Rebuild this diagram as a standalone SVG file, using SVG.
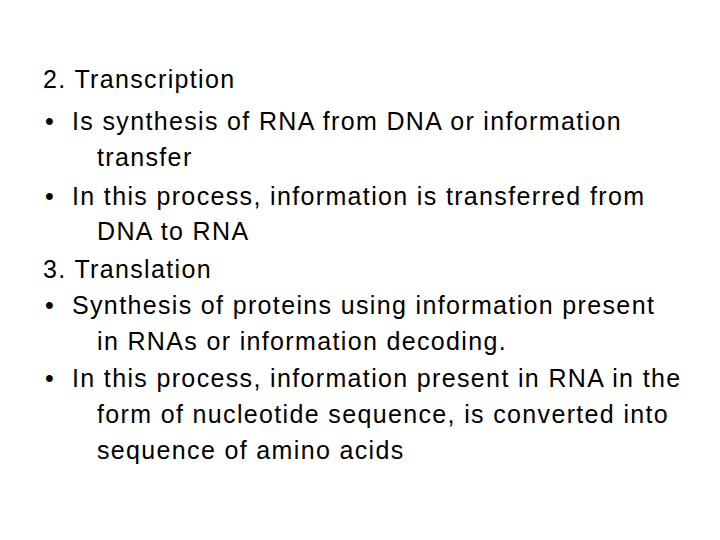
<svg xmlns="http://www.w3.org/2000/svg" width="720" height="540" viewBox="0 0 720 540">
<style>text{font-family:"Liberation Sans",Arial,sans-serif;font-size:25px;letter-spacing:1.35px;fill:#000}</style>
<rect width="720" height="540" fill="#fff"/>
<text x="43" y="88">2. Transcription</text>
<text x="45" y="130">•</text><text x="72" y="130">Is synthesis of RNA from DNA or information</text>
<text x="97" y="166">transfer</text>
<text x="45" y="205">•</text><text x="72" y="205">In this process, information is transferred from</text>
<text x="97" y="240">DNA to RNA</text>
<text x="43" y="278">3. Translation</text>
<text x="45" y="314">•</text><text x="72" y="314">Synthesis of proteins using information present</text>
<text x="97" y="350">in RNAs or information decoding.</text>
<text x="45" y="387">•</text><text x="72" y="387">In this process, information present in RNA in the</text>
<text x="97" y="423">form of nucleotide sequence, is converted into</text>
<text x="97" y="459">sequence of amino acids</text>
</svg>
